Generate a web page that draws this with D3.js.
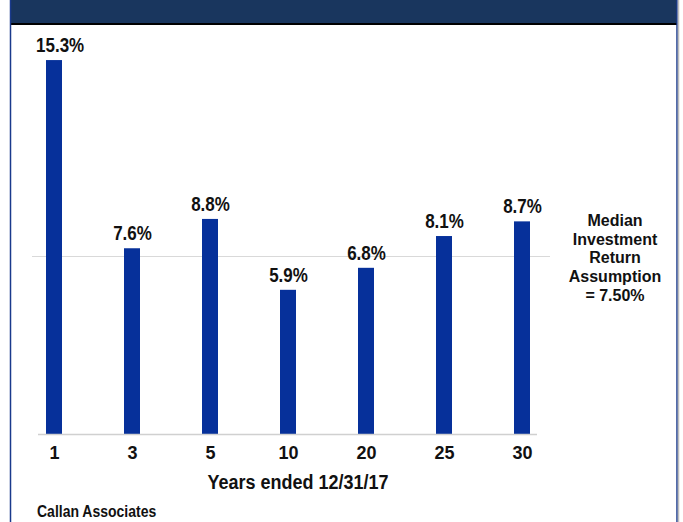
<!DOCTYPE html>
<html><head><meta charset="utf-8">
<script src="https://cdn.jsdelivr.net/npm/d3@7"></script>
<style>html,body{margin:0;padding:0;background:#fff;}svg{display:block;font-family:"Liberation Sans",Arial,sans-serif;}</style>
</head><body>
<svg id="c" width="683" height="522"></svg>
<script>
const categories = ["1","3","5","10","20","25","30"];
const returns = [15.3, 7.6, 8.8, 5.9, 6.8, 8.1, 8.7];
const valueLabels = ["15.3%","7.6%","8.8%","5.9%","6.8%","8.1%","8.7%"];
const referenceLevel = 7.3; // drawn position of the median line
const referenceLabel = ["Median","Investment","Return","Assumption","= 7.50%"];
const xTitle = "Years ended 12/31/17";
const sourceText = "Callan Associates";

const svg = d3.select("#c");
const barColor = "#06309a";
const txt = "#111";
const stretch = 1.15;

// frame
svg.append("rect").attr("x",10).attr("y",0).attr("width",667).attr("height",24).attr("fill","#19365e");
svg.append("line").attr("x1",10).attr("x2",677).attr("y1",24).attr("y2",24).attr("stroke","#000").attr("stroke-width",2);
svg.append("line").attr("x1",10.5).attr("x2",10.5).attr("y1",0).attr("y2",522).attr("stroke","#1a3a8c").attr("stroke-width",1.5);
svg.append("line").attr("x1",677).attr("x2",677).attr("y1",0).attr("y2",522).attr("stroke","#1a3a8c").attr("stroke-width",1.5);
svg.append("line").attr("x1",678.5).attr("x2",678.5).attr("y1",0).attr("y2",522).attr("stroke","#bdbdbd").attr("stroke-width",1.5);

const x = d3.scalePoint().domain(categories).range([54, 522]);
const y = d3.scaleLinear().domain([0, 16]).range([434, 434 - 16*24.44]);
const barW = 16;

// reference line
const ry = Math.round(y(referenceLevel))+0.5;
svg.append("line").attr("x1",32).attr("x2",550).attr("y1",ry).attr("y2",ry)
  .attr("stroke","#d9d9d9").attr("stroke-width",1);

// bars
svg.selectAll("rect.bar").data(returns).join("rect").attr("class","bar")
  .attr("x",(d,i)=>x(categories[i])-barW/2).attr("width",barW)
  .attr("y",d=>y(d)).attr("height",d=>y(0)-y(d)).attr("fill",barColor);

// value labels
const vl = svg.selectAll("text.val").data(returns).join("text").attr("class","val")
  .attr("text-anchor","middle").attr("font-size",17).attr("font-weight","bold").attr("fill",txt)
  .text((d,i)=>valueLabels[i]);
vl.each(function(d,i){
  const w = this.getComputedTextLength();
  const cx = Math.max(x(categories[i]) + 0.5, 36 + w/2);
  d3.select(this).attr("transform",`translate(${cx},${y(d)-8}) scale(1,${stretch})`);
});

// x axis
const axisG = svg.append("g").attr("transform",`translate(0,${y(0)})`);
axisG.call(d3.axisBottom(x).tickSize(0).tickPadding(11));
axisG.select(".domain").remove();
axisG.append("line").attr("x1",38).attr("x2",537).attr("y1",0.5).attr("y2",0.5).attr("stroke","#d0d0d0").attr("stroke-width",1.5);
axisG.selectAll(".tick text").attr("font-size",18).attr("font-weight","bold").attr("fill",txt)
  .attr("font-family","Liberation Sans, Arial, sans-serif").attr("dy","0.8em");

svg.append("text").attr("text-anchor","middle").attr("font-size",18).attr("font-weight","bold").attr("fill",txt)
  .attr("transform",`translate(298,489) scale(1,${stretch})`).text(xTitle);
svg.append("text").attr("font-size",14).attr("font-weight","bold").attr("fill",txt)
  .attr("transform",`translate(37,517) scale(1,${stretch})`).text(sourceText);

// reference annotation
const ann = svg.append("text").attr("x",615).attr("y",226).attr("text-anchor","middle").attr("font-size",16).attr("font-weight","bold").attr("fill",txt);
referenceLabel.forEach((t,i)=>ann.append("tspan").attr("x",615).attr("dy",i===0?0:18.7).text(t));
</script>
</body></html>
